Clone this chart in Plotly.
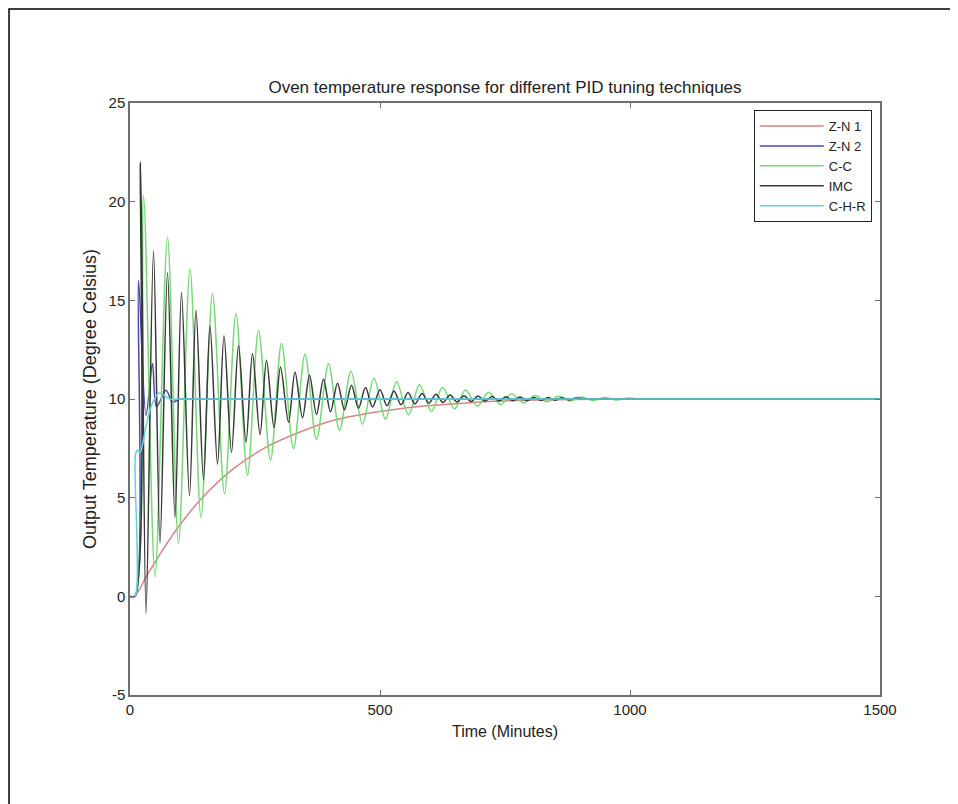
import plotly.graph_objects as go

# ---- data ----
# Z-N 1 (slow, overdamped)
zn1_time = [0, 8, 20, 32, 47, 59, 92, 140, 207, 273, 340, 407, 473, 540, 607, 673, 740, 850, 1000, 1100, 1480, 1500]
zn1_temp = [0, 0, 0.4, 0.98, 1.6, 2.1, 3.35, 4.87, 6.47, 7.57, 8.33, 8.92, 9.26, 9.51, 9.68, 9.8, 9.9, 9.96, 10.0, 10.0, 10.0, 10.0]

# Z-N 2
zn2_time = [0, 10, 17, 32, 45, 53, 72, 85, 100, 115, 1480, 1500]
zn2_temp = [0, 0, 16.0, 9.17, 11.8, 9.6, 10.44, 9.85, 10.0, 10.0, 10.0, 10.0]

# C-C (lightly damped oscillation): start, peaks, troughs, end
cc_start_time = [0, 10]
cc_start_temp = [0, 0]
cc_peak_time = [27, 75, 120, 165, 212, 257, 303, 350, 397, 442, 488, 533, 579, 625, 671, 717, 763, 810, 857, 903, 950, 997]
cc_peak_temp = [20.3, 18.2, 16.6, 15.34, 14.33, 13.48, 12.81, 12.27, 11.79, 11.4, 11.05, 10.87, 10.72, 10.6, 10.46, 10.34, 10.26, 10.18, 10.14, 10.1, 10.07, 10.05]
cc_trough_time = [50, 97, 142, 189, 235, 281, 327, 373, 419, 465, 511, 557, 603, 649, 695, 741, 787, 833, 880, 926, 973]
cc_trough_temp = [1.0, 2.67, 4.0, 5.2, 6.13, 6.89, 7.48, 7.95, 8.41, 8.73, 8.98, 9.2, 9.37, 9.5, 9.63, 9.71, 9.8, 9.86, 9.9, 9.93, 9.95]
cc_end_time = [1020, 1045, 1480, 1500]
cc_end_temp = [10, 10, 10, 10]

# IMC
imc_start_time = [0, 10]
imc_start_temp = [0, 0]
imc_peak_time = [21, 47, 75, 103, 132, 160, 188, 217, 245, 273, 301, 330, 359, 387, 415, 443, 471, 500,
                 528, 556, 584, 612, 640, 668, 696, 724, 752, 780, 808, 836, 864, 892]
imc_peak_temp = [22.0, 17.5, 16.4, 15.4, 14.5, 13.7, 13.2, 12.7, 12.3, 11.96, 11.62, 11.37, 11.2, 11.0, 10.8, 10.7,
                 10.58, 10.47, 10.4, 10.33, 10.28, 10.24, 10.2, 10.17, 10.15, 10.13, 10.11, 10.1, 10.08, 10.07, 10.06, 10.05]
imc_trough_time = [32, 60, 90, 119, 147, 175, 203, 232, 260, 288, 317, 345, 373, 401, 429, 457, 485, 514,
                   542, 570, 598, 626, 654, 682, 710, 738, 766, 794, 822, 850, 878]
imc_trough_temp = [-0.88, 2.7, 4.0, 5.1, 5.9, 6.7, 7.3, 7.8, 8.2, 8.55, 8.82, 9.05, 9.22, 9.35, 9.45, 9.53,
                   9.6, 9.66, 9.71, 9.75, 9.79, 9.82, 9.85, 9.87, 9.89, 9.9, 9.91, 9.92, 9.93, 9.94, 9.95]
imc_end_time = [910, 930, 1480, 1500]
imc_end_temp = [10, 10, 10, 10]

# C-H-R
chr_time = [0, 10, 11, 15, 20, 32, 42, 58, 80, 100, 1480, 1500]
chr_temp = [0, 0, 7.2, 7.4, 7.3, 8.6, 9.6, 10.3, 10.0, 10.0, 10.0, 10.0]

x_ticks = [0, 500, 1000, 1500]
x_tick_labels = ["0", "500", "1000", "1500"]
y_ticks = [-5, 0, 5, 10, 15, 20, 25]
y_tick_labels = ["-5", "0", "5", "10", "15", "20", "25"]


def merge(*pairs):
    pts = []
    for t, v in pairs:
        pts.extend(zip(t, v))
    pts.sort(key=lambda p: p[0])
    return [p[0] for p in pts], [p[1] for p in pts]


cc_time, cc_temp = merge((cc_start_time, cc_start_temp), (cc_peak_time, cc_peak_temp),
                         (cc_trough_time, cc_trough_temp), (cc_end_time, cc_end_temp))
imc_time, imc_temp = merge((imc_start_time, imc_start_temp), (imc_peak_time, imc_peak_temp),
                           (imc_trough_time, imc_trough_temp), (imc_end_time, imc_end_temp))

series = [
    ("Z-N 1", zn1_time, zn1_temp, "#d98585"),
    ("Z-N 2", zn2_time, zn2_temp, "#4848b0"),
    ("C-C", cc_time, cc_temp, "#74d874"),
    ("IMC", imc_time, imc_temp, "#383838"),
    ("C-H-R", chr_time, chr_temp, "#5cd6dc"),
]

fig = go.Figure()
for name, t, v, c in series:
    fig.add_trace(go.Scatter(x=t, y=v, mode="lines", name=name,
                             line=dict(color=c, width=1.5, shape="spline", smoothing=0.9)))

font_family = "Liberation Sans, Arial, sans-serif"
axis_common = dict(showgrid=False, zeroline=False, showline=True, linecolor="#707070", linewidth=1.5,
                   mirror="ticks", ticks="inside", ticklen=5, tickcolor="#707070",
                   tickfont=dict(size=15, color="#222"))

fig.update_layout(
    width=950, height=796,
    margin=dict(l=122, r=78, t=95, b=109),
    paper_bgcolor="white", plot_bgcolor="white",
    font=dict(family=font_family, size=14, color="#222"),
    title=dict(text="Oven temperature response for different PID tuning techniques",
               x=0.5, xref="paper", xanchor="center", y=1.0, yref="paper", yanchor="bottom",
               pad=dict(b=10), font=dict(size=17, color="#222")),
    xaxis=dict(range=[0, 1500], tickvals=x_ticks, ticktext=x_tick_labels,
               title=dict(text="Time (Minutes)", standoff=9, font=dict(size=16)), **axis_common),
    yaxis=dict(range=[-5, 25], tickvals=y_ticks, ticktext=y_tick_labels,
               title=dict(text="Output Temperature (Degree Celsius)", standoff=7, font=dict(size=18)),
               **axis_common),
    legend=dict(x=0.989, y=0.988, xanchor="right", yanchor="top", bgcolor="white",
                bordercolor="#222", borderwidth=1, font=dict(size=13, color="#222"),
                tracegroupgap=0, itemwidth=64),
    showlegend=True,
)

# outer frame of the screenshot
fig.add_shape(type="rect", xref="paper", yref="paper", x0=-0.1613, x1=1.2, y0=-0.3, y1=1.1588,
              line=dict(color="black", width=1.5), fillcolor="rgba(0,0,0,0)", layer="below")

fig.write_html("out.html")
